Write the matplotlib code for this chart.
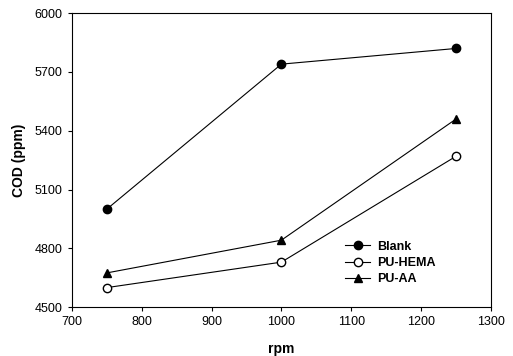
import matplotlib
matplotlib.use('Agg')
import matplotlib.pyplot as plt

plt.rc('font', family='Liberation Sans', size=9)

rpm = [750, 1000, 1250]
blank = [5000, 5740, 5820]
pu_hema = [4600, 4730, 5270]
pu_aa = [4675, 4842, 5460]

fig = plt.figure(figsize=(5.13, 3.56), dpi=100)
ax = fig.add_axes([0.140, 0.137, 0.817, 0.826])

ax.plot(rpm, blank, '-o', color='black', lw=0.8, ms=6, label='Blank')
ax.plot(rpm, pu_hema, '-o', color='black', mfc='white', lw=0.8, ms=6, label='PU-HEMA')
ax.plot(rpm, pu_aa, '-^', color='black', lw=0.8, ms=6, label='PU-AA')

ax.set_xlim(700, 1300)
ax.set_ylim(4500, 6000)
ax.set_xticks(range(700, 1301, 100))
ax.set_yticks(range(4500, 6001, 300))
ax.tick_params(direction='out', length=3, width=0.8, top=False, right=False)
for s in ax.spines.values():
    s.set_linewidth(0.8)

ax.set_xlabel('rpm', fontweight='bold', fontsize=10, labelpad=10)
ax.set_ylabel('COD (ppm)', fontweight='bold', fontsize=10, labelpad=6)

leg = ax.legend(loc='upper left', bbox_to_anchor=(0.625, 0.265), frameon=False,
                handlelength=2.0, handletextpad=0.6, labelspacing=0.35,
                prop={'weight': 'bold', 'size': 9})

fig.savefig('out.png', dpi=100)
